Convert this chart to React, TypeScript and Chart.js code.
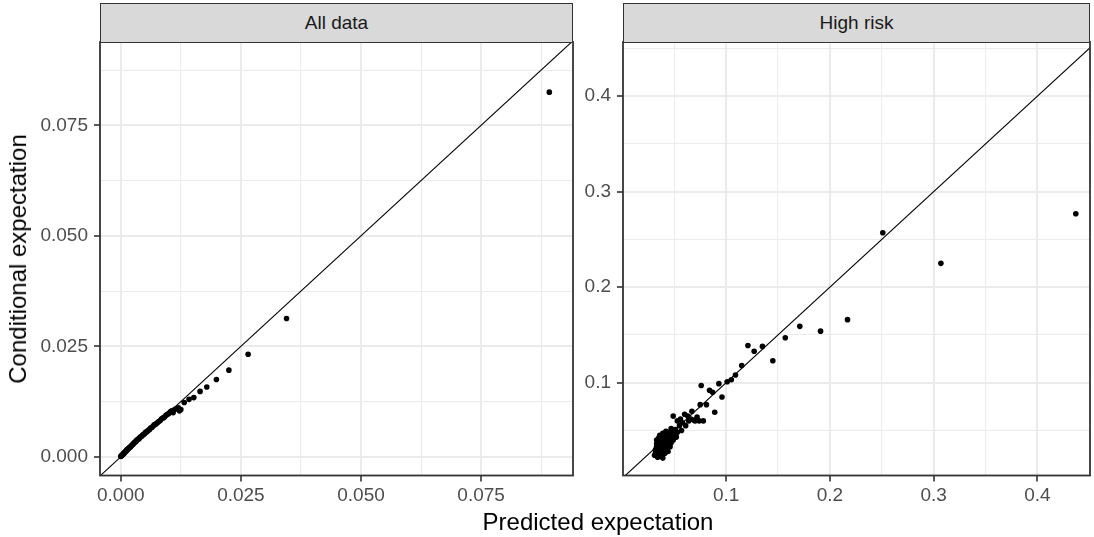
import React, { useEffect, useRef } from "react";
import { Chart, registerables } from "chart.js";

Chart.register(...registerables);

const FONT = '"Liberation Sans", Arial, Helvetica, sans-serif';

// ---- data: "All data" panel ----
const leftPredicted = [
  0.0, 0.0001, 0.0002, 0.0003, 0.0004, 0.0005, 0.0006, 0.0007, 0.0008, 0.0009,
  0.001, 0.0011, 0.0012, 0.0013, 0.0014, 0.0016, 0.0017, 0.0018, 0.002, 0.0021,
  0.0023, 0.0024, 0.0026, 0.0027, 0.0029, 0.0031, 0.0032, 0.0034, 0.0036, 0.0038,
  0.004, 0.0042, 0.0044, 0.0046, 0.0048, 0.005, 0.0052, 0.0055, 0.0057, 0.006,
  0.0062, 0.0065, 0.0068, 0.007, 0.0073, 0.0076, 0.0079, 0.0082, 0.0085, 0.0088,
  0.0091, 0.0094, 0.0097, 0.01, 0.0103, 0.0106, 0.0109, 0.0112, 0.0116, 0.012,
  0.0122, 0.0125, 0.0132, 0.0142, 0.0152, 0.0165, 0.0179, 0.0199, 0.0225, 0.0265,
  0.0345, 0.0892,
];
const leftConditional = [
  0.0001, 0.0002, 0.0003, 0.0004, 0.0005, 0.0006, 0.0008, 0.0008, 0.001, 0.0011,
  0.0012, 0.0013, 0.0015, 0.0015, 0.0017, 0.0018, 0.002, 0.0021, 0.0022, 0.0024,
  0.0026, 0.0027, 0.0029, 0.0031, 0.0033, 0.0034, 0.0036, 0.0038, 0.004, 0.0041,
  0.0044, 0.0046, 0.0047, 0.005, 0.0051, 0.0053, 0.0056, 0.0057, 0.006, 0.0062,
  0.0065, 0.0067, 0.007, 0.0073, 0.0074, 0.0077, 0.008, 0.0082, 0.0086, 0.0088,
  0.009, 0.0094, 0.0096, 0.0098, 0.0102, 0.0104, 0.01, 0.0107, 0.0109, 0.0111,
  0.0104, 0.0107, 0.0123, 0.013, 0.0134, 0.0148, 0.0158, 0.0175, 0.0196, 0.0232,
  0.0313, 0.0825,
];

// ---- data: "High risk" panel ----
const rightPredicted = [
  0.031, 0.032, 0.032, 0.033, 0.033, 0.033, 0.034, 0.034, 0.034, 0.034,
  0.035, 0.035, 0.035, 0.035, 0.036, 0.036, 0.036, 0.036, 0.036, 0.037,
  0.037, 0.037, 0.038, 0.038, 0.038, 0.039, 0.039, 0.039, 0.039, 0.04,
  0.04, 0.04, 0.041, 0.041, 0.041, 0.042, 0.042, 0.042, 0.043, 0.043,
  0.044, 0.044, 0.045, 0.045, 0.046, 0.046, 0.047, 0.047, 0.048, 0.048,
  0.049, 0.049, 0.05, 0.051, 0.052, 0.053, 0.053, 0.055, 0.056, 0.057,
  0.058, 0.06, 0.061, 0.063, 0.064, 0.066, 0.067, 0.069, 0.07, 0.072,
  0.074, 0.075, 0.076, 0.078, 0.081, 0.084, 0.087, 0.089, 0.093, 0.096,
  0.101, 0.105, 0.109, 0.115, 0.121, 0.127, 0.135, 0.145, 0.157, 0.171,
  0.191, 0.217, 0.251, 0.307, 0.437,
];
const rightConditional = [
  0.024, 0.027, 0.03, 0.033, 0.036, 0.04, 0.022, 0.028, 0.031, 0.038,
  0.025, 0.029, 0.034, 0.042, 0.023, 0.027, 0.032, 0.036, 0.045, 0.03,
  0.039, 0.041, 0.025, 0.034, 0.044, 0.021, 0.029, 0.037, 0.047, 0.032,
  0.04, 0.043, 0.026, 0.035, 0.046, 0.03, 0.038, 0.049, 0.034, 0.042,
  0.028, 0.045, 0.037, 0.048, 0.033, 0.041, 0.037, 0.052, 0.044, 0.049,
  0.04, 0.065, 0.046, 0.051, 0.043, 0.06, 0.048, 0.055, 0.062, 0.05,
  0.058, 0.067, 0.055, 0.065, 0.06, 0.062, 0.07, 0.061, 0.06, 0.064,
  0.06, 0.077, 0.097, 0.06, 0.077, 0.092, 0.09, 0.069, 0.099, 0.085,
  0.101, 0.103, 0.108, 0.118, 0.139, 0.133, 0.138, 0.123, 0.147, 0.159,
  0.154, 0.166, 0.257, 0.225, 0.277,
];

// ---- axes ----
const leftXMajor = [0, 0.025, 0.05, 0.075];
const leftXMinor = [0.0125, 0.0375, 0.0625, 0.0875];
const leftYMajor = [0, 0.025, 0.05, 0.075];
const leftYMinor = [0.0125, 0.0375, 0.0625, 0.0875];
const rightXMajor = [0.1, 0.2, 0.3, 0.4];
const rightXMinor = [0.05, 0.15, 0.25, 0.35, 0.45];
const rightYMajor = [0.1, 0.2, 0.3, 0.4];
const rightYMinor = [0.05, 0.15, 0.25, 0.35, 0.45];
const leftXLimits = [-0.00433, 0.09413];
const leftYLimits = [-0.00423, 0.09385];
const rightXLimits = [0.0006, 0.4507];
const rightYLimits = [0.0028, 0.4568];

const panelTitles = ["All data", "High risk"];
const xTitle = "Predicted expectation";
const yTitle = "Conditional expectation";

const H = 537;

type Area = { left: number; right: number; top: number; bottom: number };

function Panel(props: {
  canvasLeft: number;
  canvasWidth: number;
  area: Area;
  xs: number[];
  ys: number[];
  xLim: number[];
  yLim: number[];
  xMajor: number[];
  xMinor: number[];
  yMajor: number[];
  yMinor: number[];
  digits: number;
}) {
  const ref = useRef<HTMLCanvasElement | null>(null);
  useEffect(() => {
    const p = props;
    const canvas = ref.current!;
    const lo = Math.min(p.xLim[0], p.yLim[0]);
    const hi = Math.max(p.xLim[1], p.yLim[1]);
    const border = {
      id: "panelBorder",
      afterDraw(chart: any) {
        const a = chart.chartArea;
        const c = chart.ctx;
        c.save();
        c.strokeStyle = "#333333";
        c.lineWidth = 1.8;
        c.strokeRect(a.left, a.top, a.right - a.left, a.bottom - a.top);
        c.restore();
      },
    };
    const axis = (
      major: number[],
      minor: number[],
      lim: number[],
      isX: boolean
    ) => ({
      type: "linear",
      min: lim[0],
      max: lim[1],
      bounds: "data",
      border: { display: false },
      afterBuildTicks: (ax: any) => {
        ax.ticks = [...major, ...minor]
          .sort((a, b) => a - b)
          .map((v) => ({ value: v }));
      },
      afterFit: (ax: any) => {
        if (isX) ax.height = H - p.area.bottom;
        else ax.width = p.area.left - p.canvasLeft;
      },
      grid: {
        color: "#EBEBEB",
        lineWidth: (ctx: any) =>
          ctx.tick && major.includes(ctx.tick.value) ? 2 : 1.1,
        tickColor: (ctx: any) =>
          ctx.tick && major.includes(ctx.tick.value) ? "#333333" : "rgba(0,0,0,0)",
        tickLength: 6,
        tickWidth: 1.6,
        drawTicks: true,
      },
      ticks: {
        autoSkip: false,
        maxRotation: 0,
        minRotation: 0,
        padding: isX ? 3 : 6,
        color: "#4D4D4D",
        font: { family: FONT, size: 19 },
        callback: (v: number) => (major.includes(v) ? v.toFixed(p.digits) : ""),
      },
    });
    const chart = new Chart(canvas, {
      type: "scatter",
      data: {
        datasets: [
          {
            type: "line",
            data: [
              { x: lo, y: lo },
              { x: hi, y: hi },
            ],
            borderColor: "#000000",
            borderWidth: 1.1,
            pointRadius: 0,
            fill: false,
          } as any,
          {
            type: "scatter",
            data: p.xs.map((x, i) => ({ x, y: p.ys[i] })),
            pointRadius: 2.8,
            pointBackgroundColor: "#000000",
            pointBorderWidth: 0,
            borderWidth: 0,
          } as any,
        ],
      },
      options: {
        animation: false,
        responsive: false,
        events: [],
        layout: {
          padding: {
            top: p.area.top,
            left: 0,
            bottom: 0,
            right: p.canvasLeft + p.canvasWidth - p.area.right,
          },
        },
        plugins: { legend: { display: false }, tooltip: { enabled: false } },
        scales: {
          x: axis(p.xMajor, p.xMinor, p.xLim, true) as any,
          y: axis(p.yMajor, p.yMinor, p.yLim, false) as any,
        },
      },
      plugins: [border],
    });
    return () => chart.destroy();
  }, []);
  return (
    <canvas
      ref={ref}
      width={props.canvasWidth}
      height={H}
      style={{
        position: "absolute",
        left: props.canvasLeft,
        top: 0,
        width: props.canvasWidth,
        height: H,
      }}
    />
  );
}

function Strip({ area, text }: { area: Area; text: string }) {
  return (
    <div
      style={{
        position: "absolute",
        left: area.left,
        top: 3,
        width: area.right - area.left,
        height: area.top - 3 + 1,
        boxSizing: "border-box",
        background: "#D9D9D9",
        border: "1.8px solid #333333",
        display: "flex",
        alignItems: "center",
        justifyContent: "center",
        fontFamily: FONT,
        fontSize: 19,
        color: "#1A1A1A",
      }}
    >
      {text}
    </div>
  );
}

export default function App() {
  const leftArea: Area = { left: 100, right: 573, top: 42, bottom: 475.5 };
  const rightArea: Area = { left: 623, right: 1090, top: 42, bottom: 475.5 };
  return (
    <div
      style={{
        position: "absolute",
        left: 0,
        top: 0,
        width: 1094,
        height: H,
        background: "#FFFFFF",
        overflow: "hidden",
      }}
    >
      <Panel
        canvasLeft={0}
        canvasWidth={578}
        area={leftArea}
        xs={leftPredicted}
        ys={leftConditional}
        xLim={leftXLimits}
        yLim={leftYLimits}
        xMajor={leftXMajor}
        xMinor={leftXMinor}
        yMajor={leftYMajor}
        yMinor={leftYMinor}
        digits={3}
      />
      <Panel
        canvasLeft={578}
        canvasWidth={516}
        area={rightArea}
        xs={rightPredicted}
        ys={rightConditional}
        xLim={rightXLimits}
        yLim={rightYLimits}
        xMajor={rightXMajor}
        xMinor={rightXMinor}
        yMajor={rightYMajor}
        yMinor={rightYMinor}
        digits={1}
      />
      <Strip area={leftArea} text={panelTitles[0]} />
      <Strip area={rightArea} text={panelTitles[1]} />
      <div
        style={{
          position: "absolute",
          left: 598,
          top: 510,
          transform: "translateX(-50%)",
          fontFamily: FONT,
          fontSize: 24,
          lineHeight: "24px",
          color: "#000000",
          whiteSpace: "nowrap",
        }}
      >
        {xTitle}
      </div>
      <div
        style={{
          position: "absolute",
          left: 18.4,
          top: 259,
          transform: "translate(-50%, -50%) rotate(-90deg)",
          fontFamily: FONT,
          fontSize: 24,
          lineHeight: "24px",
          color: "#000000",
          whiteSpace: "nowrap",
        }}
      >
        {yTitle}
      </div>
    </div>
  );
}
